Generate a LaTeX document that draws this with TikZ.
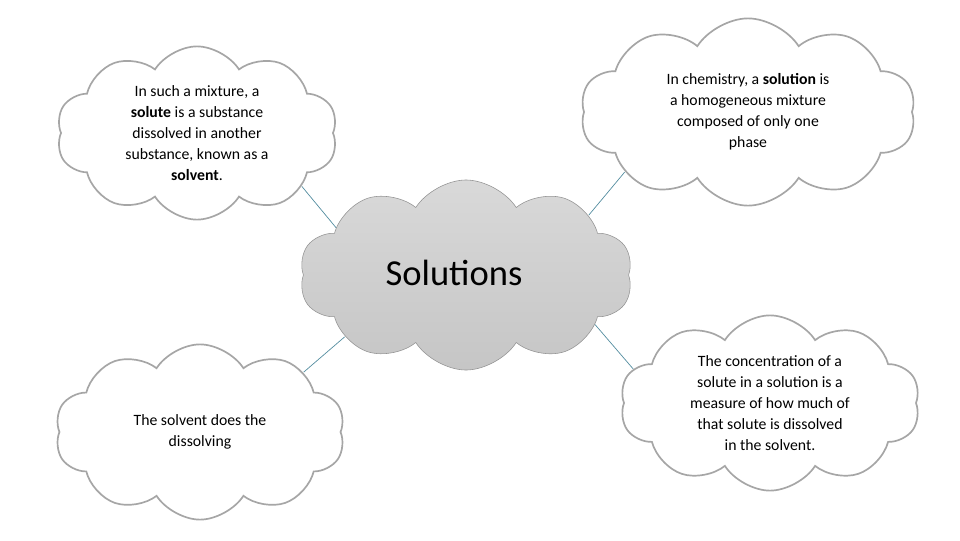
\documentclass[tikz,border=0pt]{standalone}
\usepackage{fontspec}
\setmainfont{Carlito}
\usetikzlibrary{shapes.symbols,positioning}
\definecolor{linkblue}{RGB}{84,141,160}
\definecolor{puffgray}{RGB}{166,166,166}
\begin{document}
\begin{tikzpicture}[x=0.025cm,y=-0.025cm,
    thoughtstyle/.style={cloud,cloud puffs=10,cloud puff arc=115,aspect=1.65,draw=puffgray,line width=1.2pt,fill=white,
        align=center,inner sep=0,font=\fontsize{11.2}{15}\selectfont},
    mainstyle/.style={cloud,cloud puffs=10,cloud puff arc=115,aspect=1.75,draw=gray!85,line width=0.4pt,
        top color=gray!30,bottom color=gray!45,inner sep=0,font=\fontsize{26}{30}\selectfont},
    linkstyle/.style={draw=linkblue,line width=0.5pt}]
    \useasboundingbox (0,0) rectangle (960,540);
    \node[mainstyle,minimum width=8.33cm,minimum height=4.75cm] (sol) at (466,275) {\raisebox{0.12cm}{\kern-0.6cm Solutions}};
    \node[thoughtstyle,minimum width=7.03cm,minimum height=4.33cm] (tl) at (197,133)
        {In such a mixture, a\\\textbf{solute} is a substance\\dissolved in another\\substance, known as a\\\textbf{solvent}.};
    \node[thoughtstyle,minimum width=8.38cm,minimum height=4.68cm] (tr) at (748,112)
        {In chemistry, a \textbf{solution} is\\a homogeneous mixture\\composed of only one\\phase};
    \node[thoughtstyle,minimum width=7.25cm,minimum height=4.38cm] (bl) at (200,432)
        {The solvent does the\\dissolving};
    \node[thoughtstyle,minimum width=7.5cm,minimum height=4.38cm] (br) at (770,403)
        {The concentration of a\\solute in a solution is a\\measure of how much of\\that solute is dissolved\\in the solvent.};
    \draw[linkstyle] (sol.160) -- (tl.-27);
    \draw[linkstyle] (sol.26) -- (tr.-154);
    \draw[linkstyle] (sol.-153) -- (bl.30);
    \draw[linkstyle] (sol.-21) -- (br.166);
\end{tikzpicture}
\end{document}
